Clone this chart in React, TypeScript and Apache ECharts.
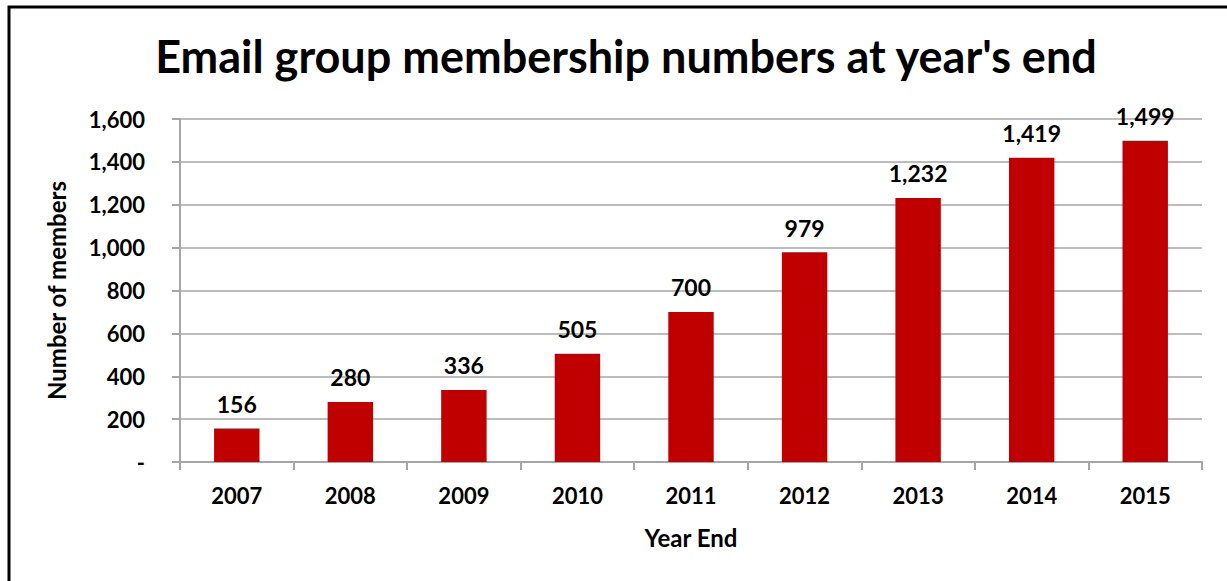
import React, { useEffect, useRef } from "react";
import * as echarts from "echarts";

const years = ["2007", "2008", "2009", "2010", "2011", "2012", "2013", "2014", "2015"];
const members = [156, 280, 336, 505, 700, 979, 1232, 1419, 1499];
const titleText = "Email group membership numbers at year's end";
const yName = "Number of members";
const xName = "Year End";

const FONT = "Lato, 'Open Sans', sans-serif";

function fmt(v: number): string {
  if (v === 0) return "-";
  return v.toString().replace(/\B(?=(\d{3})+(?!\d))/g, ",");
}

export default function App() {
  const ref = useRef<HTMLDivElement>(null);
  useEffect(() => {
    if (!ref.current) return;
    const chart = echarts.init(ref.current, null, { renderer: "svg" });
    chart.setOption({
      animation: false,
      backgroundColor: "#ffffff",
      textStyle: { fontFamily: FONT },
      title: {
        text: titleText,
        left: 621,
        top: 28,
        textAlign: "center",
        textStyle: { fontFamily: FONT, fontSize: 45, fontWeight: "bold", color: "#000" },
      },
      graphic: [
        {
          type: "rect",
          shape: { x: 9, y: 7, width: 1400, height: 800 },
          style: { fill: "none", stroke: "#000", lineWidth: 3 },
          silent: true,
        },
      ],
      grid: { left: 180, right: 25, top: 119, bottom: 119, containLabel: false },
      xAxis: {
        type: "category",
        data: years,
        name: xName,
        nameLocation: "middle",
        nameGap: 63,
        nameTextStyle: { fontFamily: FONT, fontSize: 24, fontWeight: "bold", color: "#000" },
        axisLine: { show: true, lineStyle: { color: "#a6a6a6", width: 2 } },
        axisTick: { show: true, alignWithLabel: false, length: 8, lineStyle: { color: "#a6a6a6", width: 2 } },
        axisLabel: { margin: 22, fontFamily: FONT, fontSize: 22, fontWeight: "bold", color: "#000" },
      },
      yAxis: {
        type: "value",
        min: 0,
        max: 1600,
        interval: 200,
        name: yName,
        nameLocation: "middle",
        nameGap: 112,
        nameRotate: 90,
        nameTextStyle: { fontFamily: FONT, fontSize: 24, fontWeight: "bold", color: "#000" },
        axisLine: { show: true, lineStyle: { color: "#a6a6a6", width: 2 } },
        axisTick: { show: true, length: 8, lineStyle: { color: "#a6a6a6", width: 2 } },
        splitLine: { show: true, lineStyle: { color: "#a6a6a6", width: 1.5 } },
        axisLabel: {
          margin: 35,
          fontFamily: FONT,
          fontSize: 22,
          fontWeight: "bold",
          color: "#000",
          formatter: (v: number) => fmt(v),
        },
      },
      series: [
        {
          type: "bar",
          data: members,
          barWidth: "40%",
          itemStyle: { color: "#c00000" },
          label: {
            show: true,
            position: "top",
            distance: 13,
            fontFamily: FONT,
            fontSize: 23,
            fontWeight: "bold",
            color: "#000",
            formatter: (p: any) => fmt(p.value),
          },
        },
      ],
    });
    return () => chart.dispose();
  }, []);
  return (
    <div
      ref={ref}
      style={{ position: "fixed", left: 0, top: 0, width: 1227, height: 581 }}
    />
  );
}
